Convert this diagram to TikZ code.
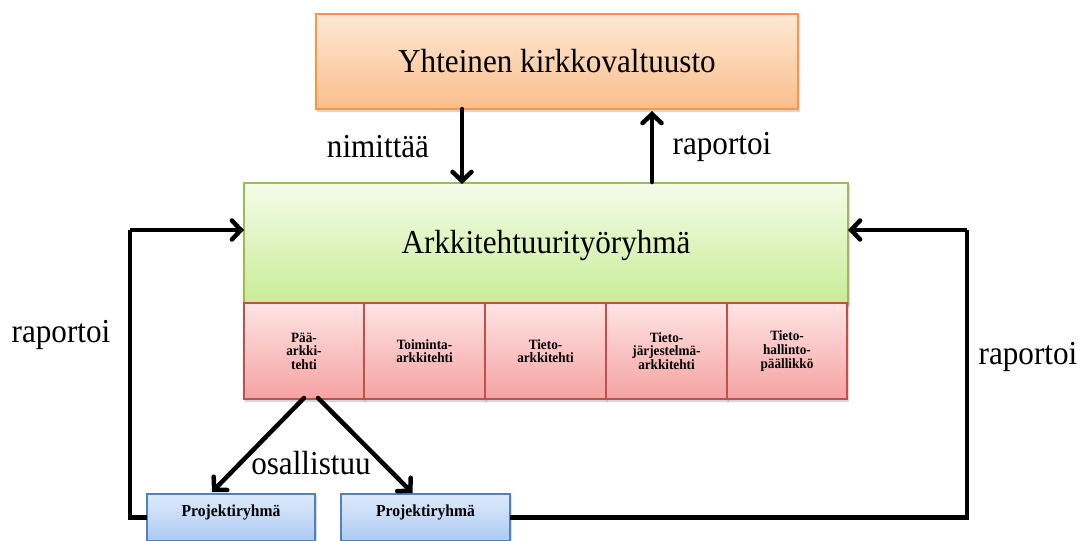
\documentclass[tikz,border=0pt]{standalone}
\usepackage{fontspec}
\setmainfont[FakeStretch=0.93]{Liberation Serif}
\usetikzlibrary{arrows.meta,calc,shadows.blur}

\definecolor{orTop}{RGB}{253,232,212}
\definecolor{orBot}{RGB}{250,190,140}
\definecolor{orLine}{RGB}{247,150,70}
\definecolor{grTop}{RGB}{244,252,232}
\definecolor{grBot}{RGB}{200,236,150}
\definecolor{grLine}{RGB}{155,187,89}
\definecolor{pkTop}{RGB}{255,228,228}
\definecolor{pkBot}{RGB}{245,162,162}
\definecolor{pkLine}{RGB}{192,80,77}
\definecolor{blTop}{RGB}{222,234,252}
\definecolor{blBot}{RGB}{172,202,242}
\definecolor{blLine}{RGB}{79,129,189}

\tikzset{
  box/.style={draw, line width=1.2pt, inner sep=0pt, outer sep=0pt,
    blur shadow={shadow xshift=1pt, shadow yshift=-2pt, shadow blur steps=6, shadow opacity=25}},
  orangebox/.style={box, draw=orLine, top color=orTop, bottom color=orBot},
  greenbox/.style={box, draw=grLine, top color=grTop, bottom color=grBot},
  cellbox/.style={box, draw=pkLine, top color=pkTop, bottom color=pkBot,
    minimum height=96pt, align=center,
    font=\bfseries\fontsize{14.2}{13.6}\selectfont},
  bluebox/.style={box, draw=blLine, top color=blTop, bottom color=blBot,
    minimum width=168pt, minimum height=47pt, anchor=north},
  smalltext/.style={font=\bfseries\fontsize{16.8}{18}\selectfont},
  bigtext/.style={font=\fontsize{33.5}{36}\selectfont},
  flow/.style={line width=4.5pt, line cap=round, line join=round,
    -{Straight Barb[length=9pt,width=19pt,line cap=round]}},
  wire/.style={line width=4.5pt, line join=miter}
}

\begin{document}
\begin{tikzpicture}[x=1pt,y=-1pt]
\useasboundingbox (0,0) rectangle (1080,541);

% governing body
\node[orangebox, minimum width=482pt, minimum height=95pt, bigtext]
  (council) at (557,61.5) {Yhteinen kirkkovaltuusto};

% architecture working group
\node[greenbox, minimum width=604pt, minimum height=121pt]
  (group) at (546,243.5) {};
\node[bigtext] (grouptext) at (546,245) {Arkkitehtuurityöryhmä};

% member roles
\node[cellbox, minimum width=120pt] (c1) at (304,351) {Pää-\\arkki-\\tehti};
\node[cellbox, minimum width=121pt] (c2) at (424.5,351) {Toiminta-\\arkkitehti};
\node[cellbox, minimum width=121pt] (c3) at (545.5,351) {Tieto-\\arkkitehti};
\node[cellbox, minimum width=121pt] (c4) at (666.5,351) {Tieto-\\järjestelmä-\\arkkitehti};
\node[cellbox, minimum width=120pt] (c5) at (787,351) {Tieto-\\hallinto-\\päällikkö};

% project groups
\node[bluebox] (p1) at (231,494) {};
\node[smalltext] (p1t) at (231,512) {Projektiryhmä};
\node[bluebox, minimum width=169pt] (p2) at (425.5,494) {};
\node[smalltext] (p2t) at (425.5,512) {Projektiryhmä};

% vertical links between council and group
\draw[flow] ($(council.south)+(-95,0)$) -- ($(group.north)+(-84,1)$);
\draw[flow] ($(group.north)+(106,-1)$) -- ($(council.south)+(95,2)$);
\node[bigtext] (lnim) at (378,147) {nimittää};
\node[bigtext] (lrap) at (722,147) {raportoi};

% reporting loops
\coordinate (lc) at (130,230);
\coordinate (rc) at (967,230);
\draw[wire] (p1.west) -| (lc);
\draw[flow, line cap=butt] (lc) -- (lc -| group.west);
\draw[wire] (p2.east) -| (rc);
\draw[flow, line cap=butt] (rc) -- (rc -| group.east);
\node[bigtext] (lrapl) at (61,335) {raportoi};
\node[bigtext] (lrapr) at (1028,357) {raportoi};

% participation
\draw[flow] ($(c1.south)+(0,-1)$) -- ($(p1.north)+(-19,-2)$);
\draw[flow] ($(c1.south)+(14,-1)$) -- ($(p2.north)+(-13,-1)$);
\node[bigtext] (losa) at (311,463) {osallistuu};
\end{tikzpicture}
\end{document}
